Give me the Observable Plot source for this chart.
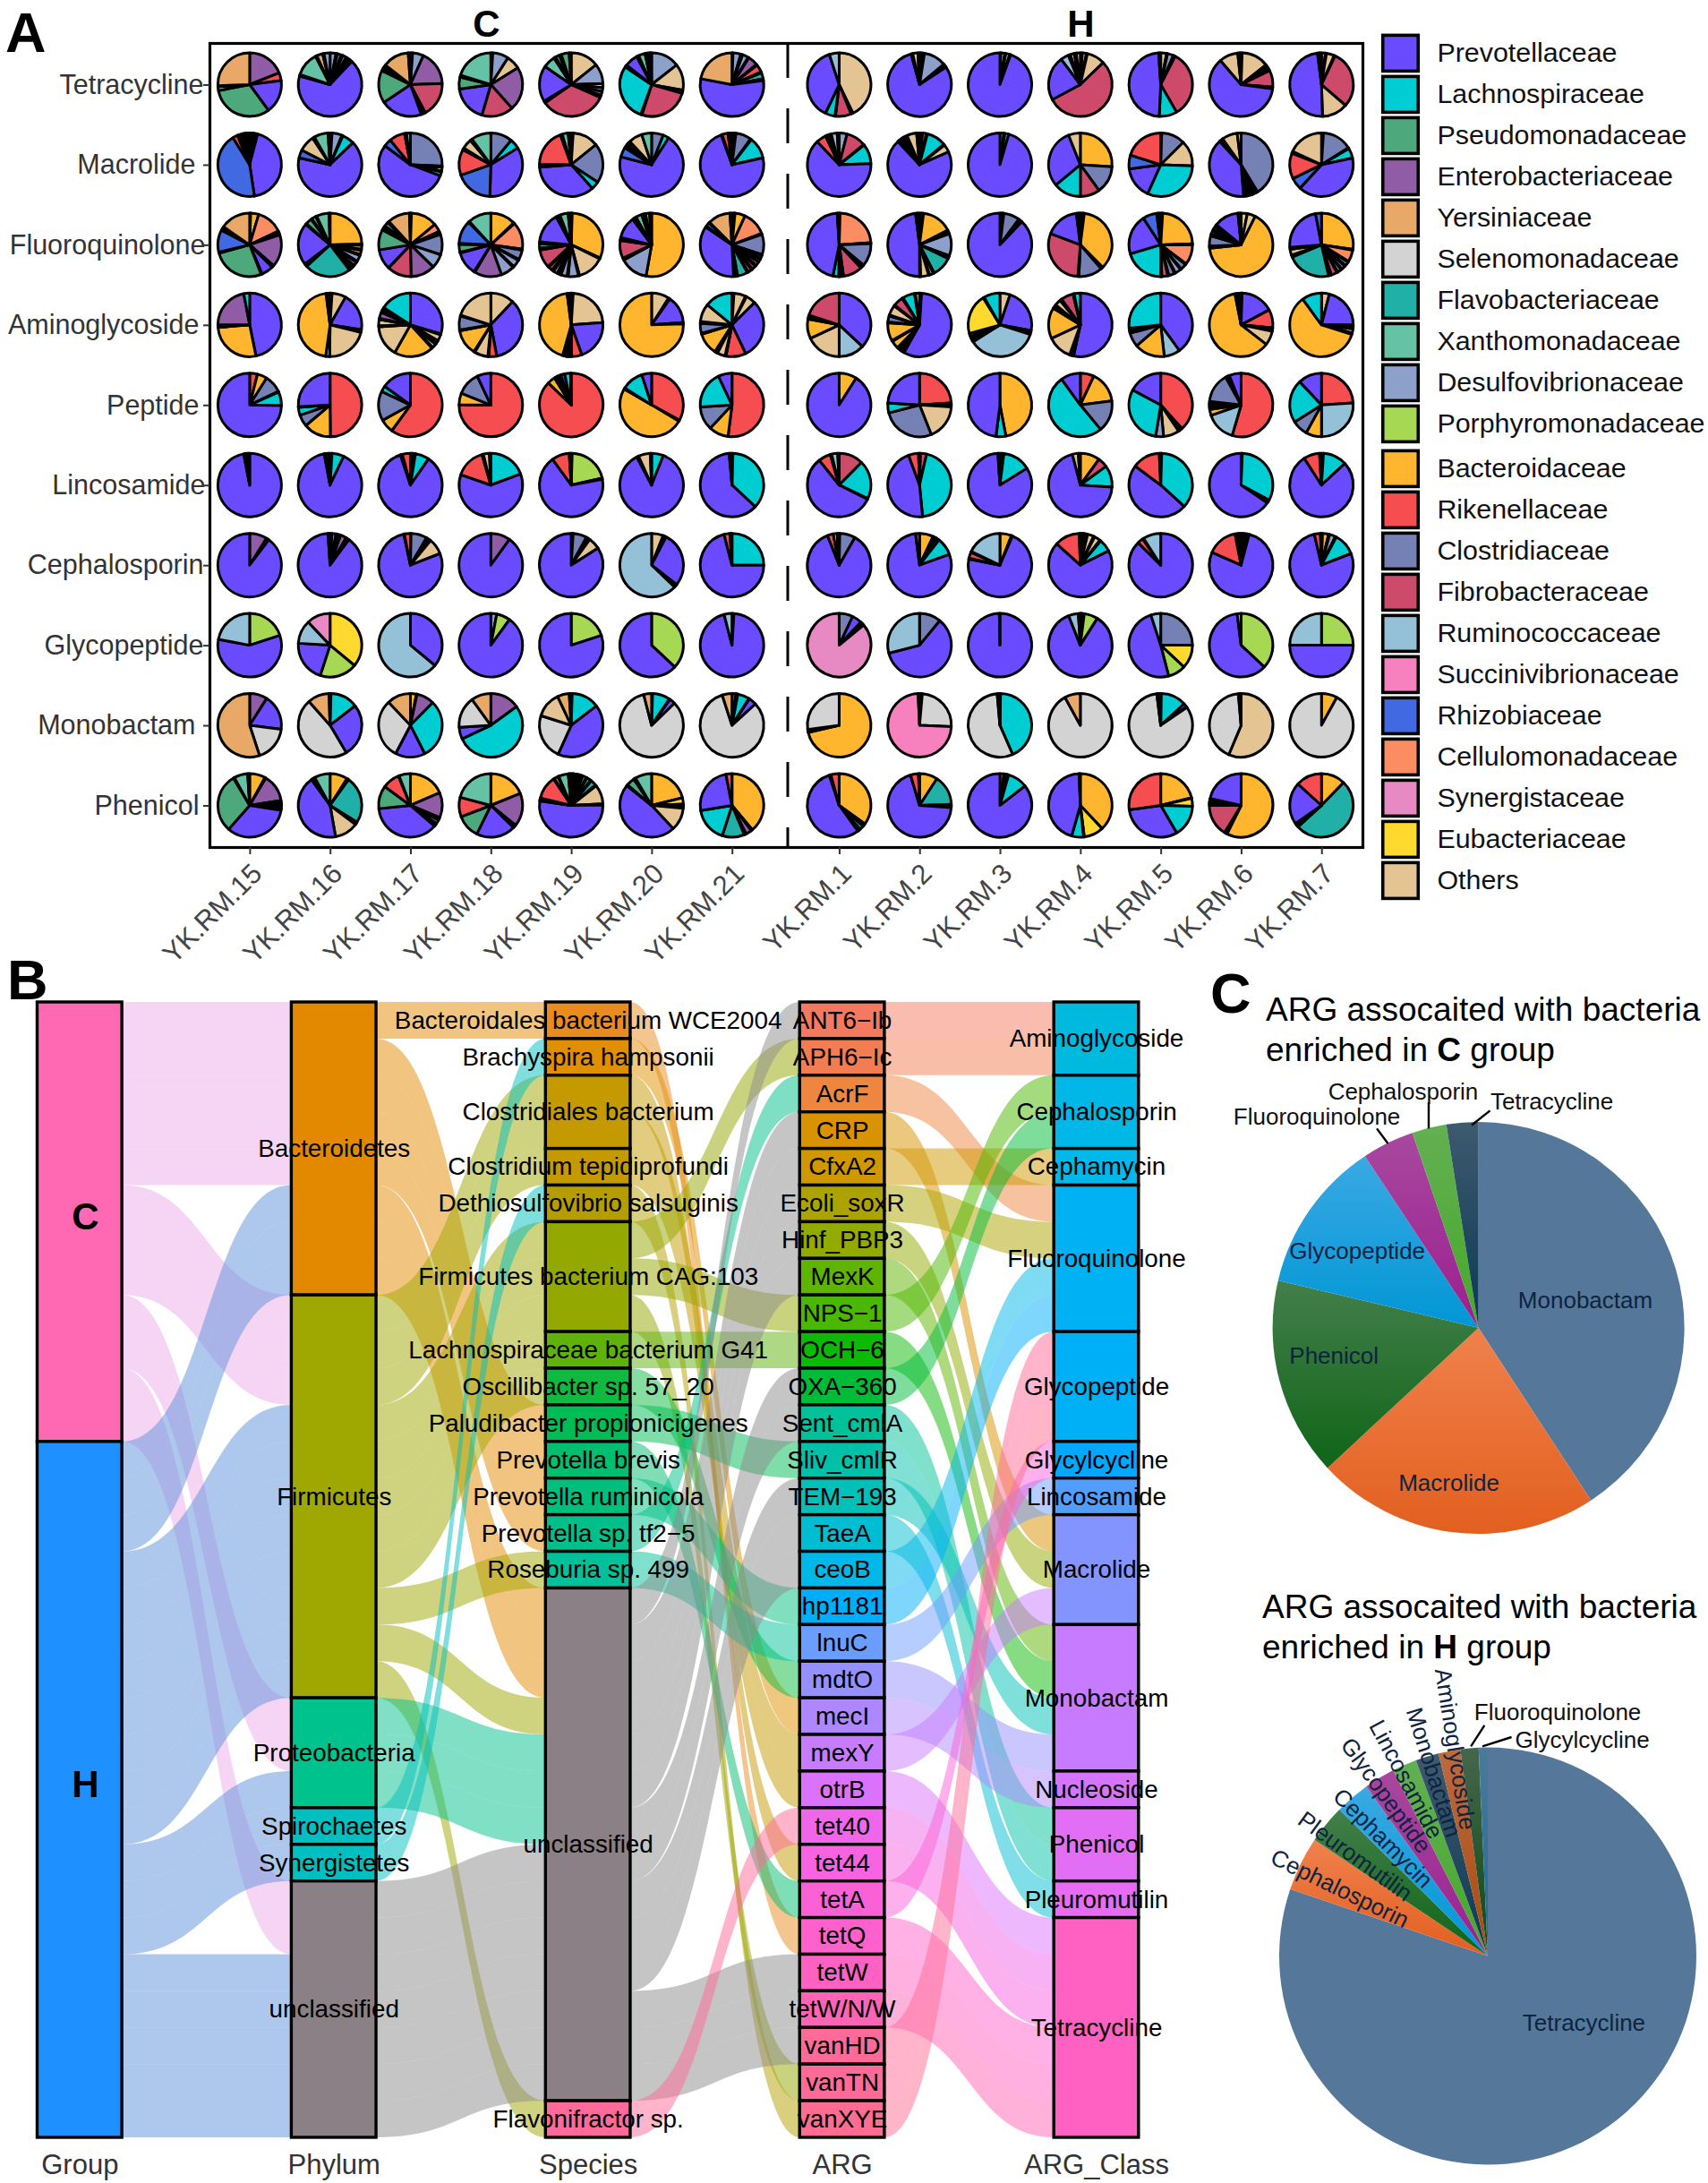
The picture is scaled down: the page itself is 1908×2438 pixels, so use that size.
<!DOCTYPE html>
<html><head><meta charset="utf-8">
<script src="https://cdn.jsdelivr.net/npm/d3@7"></script>
<script src="https://cdn.jsdelivr.net/npm/@observablehq/plot@0.6"></script>
<style>
html,body{margin:0;padding:0;background:#fff;}
#page{position:relative;width:1908px;height:2438px;overflow:hidden;font-family:"Liberation Sans",Arial,sans-serif;}
#page>div.p{position:absolute;}
.letter{position:absolute;font-weight:bold;font-size:63px;line-height:72px;color:#000;}
.title{position:absolute;font-size:37px;line-height:45px;color:#000;white-space:nowrap;}
</style></head><body><div id="page"></div>
<script>
// ---------- Panel A data ----------
const familyNames=["Prevotellaceae","Lachnospiraceae","Pseudomonadaceae","Enterobacteriaceae","Yersiniaceae","Selenomonadaceae","Flavobacteriaceae","Xanthomonadaceae","Desulfovibrionaceae","Porphyromonadaceae","Bacteroidaceae","Rikenellaceae","Clostridiaceae","Fibrobacteraceae","Ruminococcaceae","Succinivibrionaceae","Rhizobiaceae","Cellulomonadaceae","Synergistaceae","Eubacteriaceae","Others"];
const familyCodes=["Pr","La","Ps","En","Ye","Se","Fl","Xa","De","Po","Ba","Ri","Cl","Fi","Ru","Su","Rh","Ce","Sy","Eu","Ot"];
const familyColors=["#6A4BFF","#00CDD1","#4DA97B","#8F5CA5","#E8A968","#D3D3D3","#20B0A8","#66C2A5","#8DA0CB","#A6D854","#FFB52E","#F54D50","#7580B5","#CE4A6A","#94C0D8","#F781BF","#4169E1","#FC8D62","#E78AC3","#FFD92E","#E5C494"];
const classRows=["Tetracycline","Macrolide","Fluoroquinolone","Aminoglycoside","Peptide","Lincosamide","Cephalosporin","Glycopeptide","Monobactam","Phenicol"];
const classLabelGap=[7,16,5,12,12,5,7,7,16,12];
const sampleNames=["YK.RM.15","YK.RM.16","YK.RM.17","YK.RM.18","YK.RM.19","YK.RM.20","YK.RM.21","YK.RM.1","YK.RM.2","YK.RM.3","YK.RM.4","YK.RM.5","YK.RM.6","YK.RM.7"];
const tetracyclinePies=["En19 Ri4 Pr17 Ps32 Xa2 Ot.5 Ye25.5","De3 Ot.7 Cl2 Ot.7 En2 Ot.7 Fi1 Ot.7 Ot1 Pr66 Ot.8 Xa12 Ot.7 Ye3 Ot.7 De3","Ot1 De5 En16 Fi16 Ot1 Ot1 Pr19 Ps15 Ot1 Xa1 Ot1 Ye12 Ot1","Ot1 De8 Ot7 En22 Fi16 Pr18 Ps6 Ot1 Xa20","Ot14 De10 Ot2 Cl2 En2 Ot1 Fi33 Ot1 Pr18 Xa6 Ot1 Xa2 Ot1 Ps4 Ot1","De13 Ot12 Ot1.5 Fi23 Ot.5 La26 Ot.5 Ot.5 Pr6 Ot.5 Ot.5 Xa3 Ot.5 Ot.5 Ye1 Ot.5 Ot.5","Ot.5 De4 Ot1 De3 Ot.5 En5 Ot.5 Ri4 Ot.5 Fl3 Ot1 Pr55 Ye22","Ot43 Ot1 Fi8 Ot.3 La5 Pr38 Ru5","Ot.8 Ot.8 Ot.8 De11 Ot.6 Ot.6 Ot.6 Pr77 Ot.8 Ot2.5 Ot.8","Ot.5 Ot2 Ot.5 Ot2 Ot.5 Pr94.5","Ot1 Ot2 Ot.5 Ot9 Fi53 Pr22 Ru4 Ot1 Ot2 Ot1 Ot2","Ot3 Ot.5 De3 Ot1 Fi34 La9 Pr48 Ot1","Ot.5 Ot13 Ot.8 Ot.8 Ot.8 Ot.8 Fi8 Ot.8 Pr58 Ot9 Ot.8 Ot.8","Ot2 Ot.5 Ot4 Ot.5 Fi29 Ot13 Pr48 Ot1 Ot1"];
const macrolidePies=["Ot.8 Ot.8 Ot.8 Ot.8 Ot.8 Pr43 Rh43 Ri2.5 Ot.8 Xa1 Ot.8 Ot.8 Ot.8 Xa1 Ot1","Ot1 De5 Ot.5 La6 Pr64 Rh4 Ot8 Ot1 Xa7 Ot1","Cl26 Ot.5 Eu2 Ot.5 La2 Pr55 Rh4 Ri8 Ot1 Xa2","Cl11 La5 Pr34 Rh19 Ri13 Ot1 Ot5 Ot1 Xa10","Ot1 Ot13 Cl20 La4 Pr35 Ot1.5 Ri19 Ot1 Xa3 Ot1 Ye.5","Cl6 La3 Pr70 Rh5 Ot1 Ot1 Ot1 Ot1 Ot7 Xa5","Ot1 Ot1 Cl8 Ot.5 La11 Pr73 Ot.5 Ri3 Ot1 Ot1","De4 Fi10 Ot.3 La10 Pr63 Ri5 Ot1 Xa1 Ot1 Ru3 Ot1","Ot1 Ot.5 Fi2 Ot.5 La10 Ot.5 Ot4 Pr70 Ot1 Ot1.5 Ri1 Ot1 Ot1 Ot5 Ot1 Ot.5","De2 Ot.5 La2 Pr95","Ba26 Cl14 Fi10 La14 Pr30 Ot6","Ot.5 Cl12 Ot13 La31 Pr16 Rh7 Ri20","Cl42 Ot1 Ot1 Po1 Ot1 La1.5 Eu1 Ot1 Pr40 Ot1 Ot1 Ot8 Eu2","Ot1 Cl15 Ot.5 La5 Pr40 Rh6 Ri13 Ot1 Ot18"];
const fluoroquinolonePies=["Ot.5 Ba4 Ce13 Ot1 Ot1 En16 Ot1 Pr6 Ot.5 Ps26 Ot.5 Rh11 Ot1 Ot1 Ye15","Ba23 Ot.5 Ce2 Ot.5 Ce2 Ot.5 De3 Ot.5 En2 Ot.5 Fi1 Ot1 Ot.5 Fl22 Ot.7 Ot.7 Pr20 Ot.5 Ps3 Ot.5 Xa2 Ot.5 Xa6 Ot.5","Ot.5 Ba13 Ce4 Ot.8 Ot.8 Cl10 De7 En12 Fi12 Pr10 Ps10 Ot.8 Ot.8 Ot.8 Xa2 Ot.8 Ye11 Ot.5","Ba13 Ot.5 Ce14 Ot.5 Cl5 Ot.5 De4 Ot.5 De7 En14 Ot.5 Pr12 Ot.5 Ps4 Ot.5 Rh12 Ot.5 Xa12","Ot.5 Ba30 Ot.5 Ot13 Ot.5 De5 Ot.5 De3 Ot.5 Fi1 Ot.5 De2 Ot1 Fi2 Ot.5 Fi9 Ot1 Fl2 Ot1 Pr15 Ot1 Ot1 Xa4 Ot1 Ot.5","Ba52 De14 Ot1 Fi9 Ot1.5 Pr11 Ot1 Ot1 Xa3 Ot1 Ot1 Ye2 Ot1","Ye1 Ot.5 Ba5 Ce12 Ot.5 Cl10 Ot.5 De1.5 Ot.5 De1.5 En2 Ot.5 Fi2 Ot.5 Fi2 Ot.5 Fl5 Ot1 Ot1 Pr34 Ot.5 Rh2 Ot.5 Ye11 Ot1","Ot.5 Ce24 Ot.5 Cl12 Ot1 Ot1 Fi10 Ot.5 Fl1 Ot.5 Ot.5 La3 Pr47 Ot1","Ot1 Ot1 Ba15 Ot1 Ot1 De11 Ot1 Ot.5 Fl10 Ot.5 Xa2 Ot.5 Ot4 Ot.5 Pr47 Ot1 Ot1","Ot.5 Ot1 Ot.5 Cl8 Ot1 Ot1 Pr87","Ot.5 Ot1 Ot.5 Ba35 Ot1 Cl12 Ot.5 Fi29 Pr17 Ot1 Ot1","Ot1 Ba23 Ot.5 Ce10 Ot.5 Cl3 Ot.5 De3 Ot.5 Cl3 Ot.5 Fi3 Ot.5 La20 Pr20 Rh7 Ot1 Ot1","Ot3 Ot4 Ba63 Ot1 Cl5 Ot1 Fi1.5 Ot1 Fi1.5 Ot1 Pr12 Ot1 Ot.5","Ba27 Ot.5 Ce6 Ot.5 De2 Ot.5 Cl2 Ot.5 De2 Ot.5 Fi3 Ot.5 Fi1 Fl22 Ot1 Ot3 Ot1 Pr23 Rh3"];
const aminoglycosidePies=["Pr47 Ba27 Ot.7 Ot.7 En22 La3","Ot1 Ot7 Pr19 Ot.7 Ot.7 Ot21 Ru2 Ba45 Ot1 Ot1","Pr28 Ot.5 Ot3 Ot.5 Ot1 Ot.5 Ot2 Ot.5 Ba19 Ot15 Ot.5 Ot3 Ot.5 En3 Ot1 Ot.5 Ot1 La15","Ot12 Pr35 Ri4 Ot.5 Ot7 Ot.5 Ba13 Ot.5 Cl7 Ot.5 Ot20","Ot1 Ot22 Pr20 Ri5 Ot.8 Ot1 Ot.8 Ot.8 Ot1 Ba42 Ot1 Ot1","Ot9 Ot.7 Pr14 Ot.7 Ba75","Ot1 Ot6 Ot.5 Ot5 Pr30 Ri10 Ot.5 Ot4 Ot.5 Ot1 Ba11 Ot.5 Cl5 Ot1 Ot9 La14","Pr37 Ru13 Ot18 Ba10 Ot1 Ot1 Fi20","Ot1 Pr56 Ot1 Fi1 Ot1 Ot1 Ba4 Ot.5 Ba9 Ot.5 Cl3 Ot.5 Ot5 Ot.5 Fi5 Ot.5 La6 Ot.5 Ot2","Ot5 Pr22 Ot1 Ot1 Ru35 Ot.7 Ot1.5 Ot.7 Ot1.5 Eu20 Ot.5 La8","Pr51 Ot1 Ot1 Ot12 Ba15 Ot.5 Ot1 Ot.5 Ot3 Ot.5 Ot.5 Fi6 Ot.5 La3","Pr39 Ru8 Ba15 Cl7 Ot.5 De1 Ot1 La26","Ot.5 Pr16 Ri9 Ot.8 Ot.8 Ot7 Ba59 Ot1 Ot1 Ot1","Ot4 Pr21 Ot.7 Ot.7 Ot.7 Ot2 Ot.7 Ba60 La10"];
const peptidePies=["Ri4 Ba5 Cl9 Ot.4 La7 Pr75","Ri50 Ba14 Cl6 La4 Ot.3 Pr26","Ri60 Ba7 Cl15 La3 Pr15","Ri75 Ba6 Cl12 Pr7","Ri87 Ba4 Ot.5 Ba1 Ot.5 Ot1 Ot.5 Pr2 La3 Ot.3","Ri33 Ot.6 Ba50 Ot.6 La11 Pr5","Ri52 Ba10 Cl12 La19 Pr7","Ba9 Pr91","Ri24 Ot.5 Ot1 Ot.5 Ot18 Cl27 La5 Pr24","Ba47 La5 Pr48","Ri7 Ba16 Cl16 La51 Pr10","Ri38 Ot.7 Ot.7 Ot.7 Ot8 De4 La30 Pr17","Ri54 Ru15 Ba3 Ot1 Ot1 Ot1 Ot1 Cl15 Ot1 Ot1 Pr6","Ri24 Ru26 Ba8 Cl8 La22 Pr12"];
const lincosamidePies=["Pr97 Ot1 Ot1 Ot1","Ot1 La6 Pr89 Ot.7 Ot1.5 Ot.7","Ot1 Xa1 Ot.5 La7 Pr84 Ot1 Ri4","La19 Pr60 Ri15 Ot.7 Ot3 Ot.7","Ot.5 Po21 Ot.6 Pr68 Ri9 Ot.5 Ot.5","La6 Pr86 Ot1 Ot6 Ot.7","Ot.5 La36 Pr61 Ot.7 Ot.7","Fi12 La19 Ot.3 Pr55 Ri6 Ot.7 Ru3 Ot.7","Ot.5 Fi3 La44 Pr45 Ri5 Ot.5","Ot1 Ot1 La14 Pr82 Ot1","Ba10 Fi5 La11 Pr70 Ot3 Ot1","Ot.5 La36 Pr48 Ri14 Ot.7","Ot.6 La32 Ot1 Ot.7 Pr65","Ot1 La12 Pr77 Ri8 Ot1"];
const cephalosporinPies=["En9 Ot.7 Ot.7 Pr90","Ot1 De2 Ot.7 De1 Ot.7 En3 Ot.7 Ot1 Pr88 Ot1","Ot.3 Cl8 Ot.7 Ot1 Ot.7 Ot8 Pr76 Ot.3 Ri3","En10 Pr90","Ot1 Cl7 Ot1 Ot1 Ot6 Pr84","Ot6 Ot.8 Ot.8 Pr28 Ot.8 Ot.8 Ru63","La25 Pr71 Ri3 Ot1","Ot.3 Cl8 Pr86 Ri3 Ba2 Ot1","Ba7 Ot.7 Ot1 Ot.7 Ot1 La9 Pr78 Ri2","Ba6 Ot.5 Pr72 Ot.5 Ri3 Ot.5 Ru18","Ot.5 Ba1 Ot.5 Ot1 Ot.5 Ot3 Ot.5 Ot3 Ot.5 La6 Pr65 Ri12 Ot.5","Pr87 Ri3 Ot.5 Ru9","Ot1 De1 Ot1 Ot1 Pr76 Ri15 Ot1 De1 Ot1","Ot.5 Ba3 Ot.5 De3 Ot.5 La11 Pr75 Ri3 Ot.5"];
const glycopeptidePies=["Po20 Pr58 Ru22","Eu36 Po19 Pr21 Ru12 Sy12","Pr36 Ru64","De3 Po7 Pr90","Po20 Pr80","Po37 Pr63","Ba1 Pr95 Ru4","Cl7 Pr5 Ot1 Ot1 Sy86","Cl11 Pr60 Ru29","Pr99.7 Ot.3","Ot.5 Ba1 Ot.5 Po7 Pr85 Ru5 Ot1","Cl25 Eu12 Po9 Pr49 Ru5","Po37 Pr61 Ru2","Po25 Pr50 Ru25"];
const monobactamPies=["En9 Pr18 Se18 Ye55","Ot.5 La14 Pr27 Se47 Ye11 Ot.5","Ba3 Ot.3 En9 La30 Pr15 Se30 Ye12","En15 La53 Pr6 Se16 Ye10","Ot.5 La14 Pr42 Se23 Ot13 Ye6 Ot1","Ot.5 La9 Ot.3 Pr3 Se83 Ye4","En2 Ot.5 Ot.5 La6 Ot.3 Pr4 Se82 Ye5","Ba71 Ot.7 Ot.7 Se27","Ot.7 Ot.7 Se24 Su73 Ot.7","Ot.3 La43 Se55 Ot.7 Ot.7","Se92 Ye8","Ot.3 La13 Pr2 Ot.3 Se83 Ot1 Ye1","Ot56 Se42 Ot.7 Ot.7","Ba8 Se92"];
const phenicolPies=["Ba8 Ot.5 En14 Ot1 Ot1 Ot1 Ot1 Ot1 Pr34 Ps30 Ot.5 Xa7 Ot1","Ba9 Ot.5 Ot.5 Fl24 Ot.7 Ot.7 Ot12 Pr43 Ot.5 Xa1 Ot.5 Xa8","Ba19 En13 Ot.8 Ot.8 Fl2 Ot.8 Ot.8 Pr38 Ps12 Ri9 Ot.3 Xa6","Ba19 En17 Ot.8 Ot.8 Pr20 Ps12 Ri10 Xa21","Ot1 Ot.5 Ba1 Ot.5 Xa1 Ot.5 Ot1 Ot.5 Fl2 Ot.5 La2 Ot.5 Fl3 Ot.5 Ot10 Ot.5 Pr53 Ot.5 Po.5 Ot.5 Ri12 Ot.5 Ot2 Ot.5 Xa5 Ot.5 Ot1","Ba20 Eu3 Ot1 Ot1 Ot11 Pr45 Ot.5 Ps4 Ot.5 Ot.5 Xa8","Ba38 Ot.7 En3 Ot.5 Ot.5 Fl11 La17 Pr24 Ri3","Ba33 Ot.7 Ot.7 Fl2 Ot.7 Ot.7 Pr52 Ot.7 Ri4","Ba9 Fl15 Ot.8 Ot.8 Pr68 Ri4 Ot.5","Ba2 Ot.7 Fl1 Ot.7 La10 Pr85","Ba38 Eu10 Ot.4 La6 Pr45 Ot.6","Ba21 Ot.3 Eu4 La16 Pr31 Ri27","Ba56 Ot.7 Ot.7 Fi16 Ot.7 Ot.7 Po.5 Ot.7 Ot.7 Pr21","Ba12 Fl50 Ot.7 La.7 Ot.7 Pr21 Ri13"];
const piesByClass=[tetracyclinePies,macrolidePies,fluoroquinolonePies,aminoglycosidePies,peptidePies,lincosamidePies,cephalosporinPies,glycopeptidePies,monobactamPies,phenicolPies];

// ---------- Panel B data ----------
const axisNames=["Group","Phylum","Species","ARG","ARG_Class"];
const groupNames=["C","H"], groupCounts=[12,19], groupColors=["#FF69B4","#1E90FF"], groupFlowColors=["#EDACE9","#5C91D9"];
const phylumNames=["Bacteroidetes","Firmicutes","Proteobacteria","Spirochaetes","Synergistetes","unclassified"];
const phylumCounts=[8,11,3,1,1,7];
const phylumColors=["#E38900","#9FA800","#00C28C","#00BFC0","#00BFC0","#8B8085"];
const speciesNames=["Bacteroidales bacterium WCE2004","Brachyspira hampsonii","Clostridiales bacterium","Clostridium tepidiprofundi","Dethiosulfovibrio salsuginis","Firmicutes bacterium CAG:103","Lachnospiraceae bacterium G41","Oscillibacter sp. 57_20","Paludibacter propionicigenes","Prevotella brevis","Prevotella ruminicola","Prevotella sp. tf2−5","Roseburia sp. 499","unclassified","Flavonifractor sp."];
const speciesCounts=[1,1,2,1,1,3,1,1,1,1,1,1,1,14,1];
const speciesColors=["#E98C20","#E08F00","#C49A00","#C49A00","#B59D00","#93A800","#5FB20A","#10BA40","#00BC55","#00BE70","#00BF7D","#00BF8B","#00C19A","#8B8085","#FF6A9A"];
const argNames=["ANT6−Ib","APH6−Ic","AcrF","CRP","CfxA2","Ecoli_soxR","Hinf_PBP3","MexK","NPS−1","OCH−6","OXA−360","Sent_cmlA","Sliv_cmlR","TEM−193","TaeA","ceoB","hp1181","lnuC","mdtO","mecI","mexY","otrB","tet40","tet44","tetA","tetQ","tetW","tetW/N/W","vanHD","vanTN","vanXYE"];
const argColors=["#F5795F","#F27D52","#EE8640","#D99200","#CF9700","#ADA300","#93AA00","#5FB400","#4AB800","#0CBA06","#00BB38","#00C19A","#00C1A8","#00C0B8","#00BDD2","#00B8E7","#00ADFA","#6B9CFF","#9590FF","#AE87FF","#C77CFF","#DB72FB","#F066EA","#F763E0","#FB61D7","#FF61CC","#FF61C3","#FF63B6","#FF6A98","#FF6A98","#FF6C91"];
const classNames=["Aminoglycoside","Cephalosporin","Cephamycin","Fluoroquinolone","Glycopeptide","Glycylcycline","Lincosamide","Macrolide","Monobactam","Nucleoside","Phenicol","Pleuromutilin","Tetracycline"];
const classCounts=[2,2,1,4,3,1,1,3,4,1,2,1,6];
const classColors=["#00B9DE","#00B8E7","#00B8EA","#00B2F3","#00B0F6","#00A9FF","#529EFF","#8494FF","#C77CFF","#D575FE","#E36EF6","#E76BF3","#FF61C3"];
const unclassifiedFlowColor="#8D8C8B";
const groupToPhylum=[0,1,2,3,4,8,9,10,19,20,24,25,5,6,7,11,12,13,14,15,16,17,18,21,22,23,26,27,28,29,30];
const phylumToSpecies=[0,11,12,13,14,16,17,18,2,3,4,6,7,8,9,10,15,19,30,20,21,22,1,5,23,24,25,26,27,28,29];
const speciesToArg=[25,19,23,20,21,30,1,8,29,9,18,12,24,16,2,17,0,3,4,5,6,7,10,11,13,14,15,26,27,28,22];
const argToClass=[0,1,5,14,4,6,15,17,2,18,3,22,23,19,24,7,8,13,20,21,16,25,26,27,12,28,29,30,9,10,11];

// ---------- Panel C data ----------
const enrichedCNames=["Monobactam","Macrolide","Phenicol","Glycopeptide","Fluoroquinolone","Cephalosporin","Tetracycline"];
const enrichedCValues=[40.8,22.3,15.6,12,4.1,2.7,2.5];
const enrichedHNames=["Tetracycline","Cephalosporin","Pleuromutilin","Cephamycin","Glycopeptide","Lincosamide","Monobactam","Aminoglycoside","Fluoroquinolone","Glycylcycline"];
const enrichedHValues=[80.2,4.2,3,2.7,2.4,1.9,1.8,1.7,1.4,.7];
const sliceColorsC=[["#55789A","#55789A"],["#F0814C","#E25F1F"],["#437F4A","#0F6518"],["#3AA9E2","#0096D6"],["#A8489E","#9A1F90"],["#62B052","#46A82A"],["#3E5A6E","#0B3955"]];
const sliceColorsH=[["#55789A","#55789A"],["#F0814C","#E25F1F"],["#437F4A","#0F6518"],["#3AA9E2","#0096D6"],["#A8489E","#9A1F90"],["#62B052","#46A82A"],["#3E5A6E","#0B3955"],["#BD6A3F","#A84A10"],["#46664C","#0B4A18"],["#4A7A9C","#1F6A94"]];

// ---------- helpers ----------
const page=document.getElementById("page");
const font="'Liberation Sans',Arial,sans-serif";
function place(node,left,top){const d=document.createElement("div");d.className="p";d.style.left=left+"px";d.style.top=top+"px";d.appendChild(node);page.appendChild(d);}
function html(cls,left,top,h){const d=document.createElement("div");d.className=cls;d.style.left=left+"px";d.style.top=top+"px";d.innerHTML=h;page.appendChild(d);}
const baseStyle={fontFamily:font,background:"transparent",overflow:"visible"};

// wedge mark: a dot channel gives each pie's centre through Plot's scales; the slice is drawn there.
function wedges(rows,radiusOf,opts={}){
  return Plot.dot(rows,{x:"x",y:"y",render(index,scales,values){
    const g=d3.create("svg:g");
    const radius=radiusOf(scales);
    const arc=d3.arc().innerRadius(0).outerRadius(radius);
    const defs=g.append("defs");
    for(const i of index){
      const r=rows[i];
      let fill=r.fill;
      if(r.grad){
        const id=r.gid;
        const lg=defs.append("linearGradient").attr("id",id).attr("x1",0).attr("y1",0).attr("x2",0).attr("y2",1);
        lg.append("stop").attr("offset","0%").attr("stop-color",r.grad[0]);
        lg.append("stop").attr("offset","100%").attr("stop-color",r.grad[1]);
        fill=`url(#${id})`;
      }
      g.append("path").attr("transform",`translate(${values.x[i]},${values.y[i]})`)
       .attr("d",arc({startAngle:r.a0,endAngle:r.a1}))
       .attr("fill",fill)
       .attr("stroke",opts.stroke||"none").attr("stroke-width",opts.strokeWidth||0).attr("stroke-linejoin","round");
    }
    return g.node();
  }});
}

// ---------- Panel A ----------
const sampleSlot=sampleNames.map((_,i)=>i<7?i:i+1/3);
const familyColor=new Map(familyCodes.map((c,i)=>[c,familyColors[i]]));
const wedgeRows=[];
classRows.forEach((cls,ci)=>{
  piesByClass[ci].forEach((s,si)=>{
    const parts=s.trim().split(/\s+/).map(p=>[p.slice(0,2),+p.slice(2)]);
    const tot=d3.sum(parts,p=>p[1]);
    let acc=0;
    for(const [code,v] of parts){
      wedgeRows.push({x:sampleSlot[si],y:cls,fill:familyColor.get(code),a0:acc/tot*2*Math.PI,a1:(acc+v)/tot*2*Math.PI});
      acc+=v;
    }
  });
});
const wA=1530,hA=1060,pxPerSlot=89.8;
place(Plot.plot({
  width:wA,height:hA,marginLeft:234,marginRight:wA-1522,marginTop:48,marginBottom:hA-946,
  style:baseStyle,
  x:{domain:[-0.5,13.843],label:null},
  y:{type:"point",domain:classRows,padding:0.52,round:false,label:null},
  marks:[
    Plot.ruleX([6.688],{stroke:"#000",strokeWidth:3,strokeDasharray:"39 34"}),
    wedges(wedgeRows,()=>35.5,{stroke:"#000",strokeWidth:3}),
    Plot.frame({stroke:"#000",strokeWidth:3.2}),
    Plot.axisY({anchor:"left",tickSize:7,tickFormat:()=>"",label:null,color:"#333",strokeWidth:2}),
    Plot.text(classRows,{x:(d,i)=>-0.5-classLabelGap[i]/pxPerSlot,y:d=>d,text:d=>d,textAnchor:"end",fontSize:30.5,fill:"#333"}),
    Plot.axisX(sampleSlot,{anchor:"bottom",tickSize:8,tickFormat:()=>"",label:null,color:"#333",strokeWidth:2}),
    Plot.axisX(sampleSlot,{anchor:"bottom",tickSize:0,tickPadding:24,dx:8,fontSize:31,label:null,color:"#444",tickRotate:-45,tickFormat:d=>sampleNames[sampleSlot.indexOf(d)]}),
    Plot.text([{x:2.94,t:"C"},{x:sampleSlot[10],t:"H"}],{x:"x",text:"t",frameAnchor:"top",lineAnchor:"middle",dy:-21,fontSize:42,fontWeight:"bold",fill:"#000"})
  ]
}),0,0);

// legend
const legendRows=familyNames.map((name,i)=>({name,color:familyColors[i],pos:i+(i>=10?4/46:0)}));
place(Plot.plot({
  width:378,height:1000,marginLeft:13,marginRight:322,marginTop:8,marginBottom:0,
  style:baseStyle,
  x:{domain:[0,1],axis:null},
  y:{domain:[0,(1000-8)/46],range:[8,1000],axis:null},
  color:{type:"identity"},
  marks:[
    Plot.rect(legendRows,{x1:()=>0.04,x2:()=>0.96,y1:d=>d.pos+.03,y2:d=>d.pos+.90,fill:"color",stroke:"#000",strokeWidth:3.6}),
    Plot.text(legendRows,{x:()=>1.44,y:d=>d.pos+.46,text:"name",textAnchor:"start",fontSize:30.4,fill:"#111"})
  ]
}),1530,30);

// ---------- Panel B ----------
const N=31;
function stack(names,counts,colors,axis){
  let s=0;const out=[];
  names.forEach((name,i)=>{out.push({axis,name,start:s,end:s+counts[i],color:colors[i]});s+=counts[i];});
  return out;
}
const strataGroup=stack(groupNames,groupCounts,groupColors,0);
const strataPhylum=stack(phylumNames,phylumCounts,phylumColors,1);
const strataSpecies=stack(speciesNames,speciesCounts,speciesColors,2);
const strataArg=stack(argNames,argNames.map(()=>1),argColors,3);
const strataClass=stack(classNames,classCounts,classColors,4);
const allStrata=[...strataGroup,...strataPhylum,...strataSpecies,...strataArg,...strataClass];
const colorAt=(str,slot)=>{const d=str.find(d=>slot>=d.start&&slot<d.end);return d.name==="unclassified"?unclassifiedFlowColor:d.color;};
const half=1/6;
const flowRows=[];
function addFlows(axis,map,colorOf){
  map.forEach((t,s)=>{
    const id=axis+"-"+s,fill=colorOf(s);
    flowRows.push({id,fill,x:axis+half,y1:s,y2:s+1},{id,fill,x:axis+1-half,y1:t,y2:t+1});
  });
}
addFlows(0,groupToPhylum,s=>s<groupCounts[0]?groupFlowColors[0]:groupFlowColors[1]);
addFlows(1,phylumToSpecies,s=>colorAt(strataPhylum,s));
addFlows(2,speciesToArg,s=>colorAt(strataSpecies,s));
addFlows(3,argToClass,s=>argColors[s]);
const labelStrata=[...strataPhylum,...strataSpecies,...strataArg,...strataClass];
const topB=1060,hB=1378;
place(Plot.plot({
  width:1340,height:hB,marginLeft:0,marginRight:0,marginTop:1119-topB,marginBottom:topB+hB-2387,
  style:baseStyle,
  x:{domain:[0,4],range:[88.8,1224.5],label:null},
  y:{domain:[0,N],reverse:true,axis:null},
  color:{type:"identity"},
  marks:[
    Plot.area(flowRows,{x1:"x",y1:"y1",y2:"y2",z:"id",fill:"fill",fillOpacity:.5,curve:"bump-x"}),
    Plot.rect(allStrata,{x1:d=>d.axis-half,x2:d=>d.axis+half,y1:"start",y2:"end",fill:"color",stroke:"#000",strokeWidth:3.4}),
    Plot.text(labelStrata,{x:"axis",y:d=>(d.start+d.end)/2,text:"name",fontSize:27.8,fill:"#000"}),
    Plot.text(strataGroup,{x:"axis",y:d=>(d.start+d.end)/2,text:"name",fontSize:42,fontWeight:"bold",fill:"#000",dx:6,dy:-5}),
    Plot.axisX([0,1,2,3,4],{anchor:"bottom",tickSize:0,tickPadding:18,fontSize:31,label:null,color:"#333",tickFormat:d=>axisNames[d]})
  ]
}),0,topB);

// ---------- Panel C ----------
function sliceRows(names,values,colors,prefix){
  const tot=d3.sum(values);let acc=0;
  return names.map((name,i)=>{const a0=acc/tot*2*Math.PI;acc+=values[i];
    return {x:0,y:0,name,a0,a1:acc/tot*2*Math.PI,grad:colors[i],gid:prefix+i};});
}
function piePlot(rows,labels,leaders,cx,cy,r,left,top,w,h){
  return place(Plot.plot({
    width:w,height:h,margin:0,style:baseStyle,
    x:{domain:[-1,1],range:[cx-r-left,cx+r-left],axis:null},
    y:{domain:[-1,1],range:[cy+r-top,cy-r-top],axis:null},
    color:{type:"identity"},
    marks:[
      wedges(rows,s=>s.x(1)-s.x(0)),
      Plot.link(leaders,{x1:"x1",y1:"y1",x2:"x2",y2:"y2",stroke:"#000",strokeWidth:2.4}),
      Plot.text(labels,{x:"x",y:"y",text:"t",rotate:"rot",fontSize:26,fill:"c"})
    ]
  }),left,top);
}
const inkIn="#0E2340",inkOut="#111";
piePlot(sliceRows(enrichedCNames,enrichedCValues,sliceColorsC,"gc"),
  [{t:"Monobactam",x:.517,y:.133,rot:0,c:inkIn},{t:"Macrolide",x:-.146,y:-.752,rot:0,c:inkIn},{t:"Phenicol",x:-.704,y:-.135,rot:0,c:inkIn},{t:"Glycopeptide",x:-.591,y:.374,rot:0,c:inkIn},{t:"Cephalosporin",x:-.368,y:1.148,rot:0,c:inkOut},{t:"Fluoroquinolone",x:-.787,y:1.024,rot:0,c:inkOut},{t:"Tetracycline",x:.354,y:1.1,rot:0,c:inkOut}],
  [{x1:-.035,y1:.987,x2:.054,y2:1.057},{x1:-.244,y1:.97,x2:-.244,y2:1.097},{x1:-.442,y1:.898,x2:-.496,y2:.97}],
  1651.6,1483,230,1340,1190,568,530);
piePlot(sliceRows(enrichedHNames,enrichedHValues,sliceColorsH,"gh"),
  [{t:"Tetracycline",x:.459,y:-.319,rot:0,c:inkIn},{t:"Cephalosporin",x:-.712,y:.324,rot:26,c:inkIn},{t:"Pleuromutilin",x:-.639,y:.479,rot:36,c:inkIn},{t:"Cephamycin",x:-.506,y:.566,rot:45,c:inkIn},{t:"Glycopeptide",x:-.492,y:.771,rot:54,c:inkIn},{t:"Lincosamide",x:-.395,y:.848,rot:62,c:inkIn},{t:"Monobactam",x:-.264,y:.882,rot:72.5,c:inkIn},{t:"Aminoglycoside",x:-.16,y:.994,rot:81,c:inkIn},{t:"Fluoroquinolone",x:.333,y:1.17,rot:0,c:inkOut},{t:"Glycylcycline",x:.451,y:1.037,rot:0,c:inkOut}],
  [{x1:-.083,y1:1.007,x2:-.018,y2:1.108},{x1:-.028,y1:1.007,x2:.112,y2:1.052}],
  1662,2184.6,233,1380,1870,528,568);

// titles and panel letters
html("title",1414,1105,"ARG assocaited with bacteria<br>enriched in <b>C</b> group");
html("title",1410,1772,"ARG assocaited with bacteria<br>enriched in <b>H</b> group");
html("letter",6,0,"A");
html("letter",8,1058,"B");
html("letter",1352,1073,"C");
</script></body></html>
